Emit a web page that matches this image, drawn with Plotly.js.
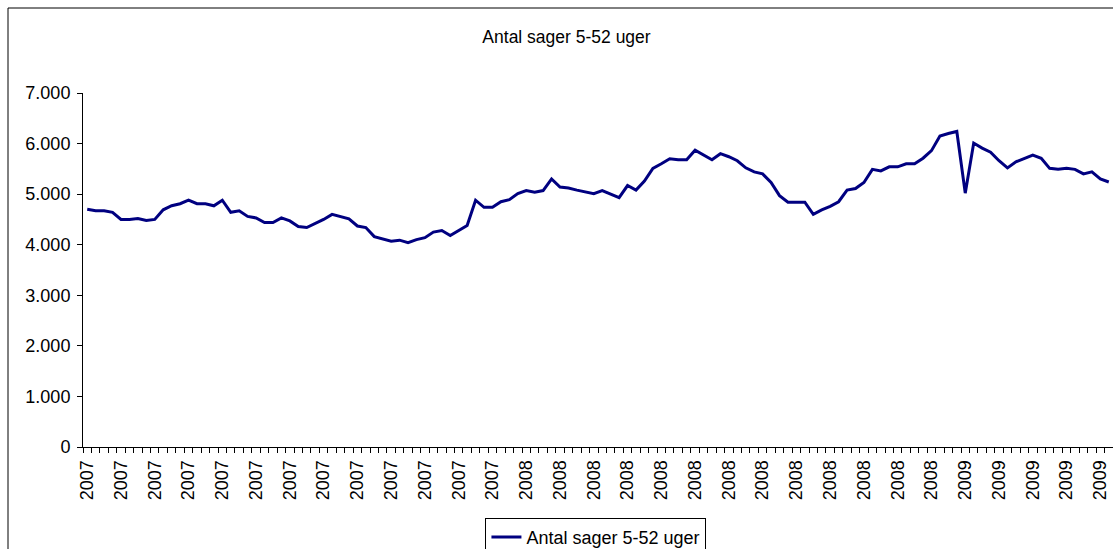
<!DOCTYPE html>
<html>
<head>
<meta charset="utf-8">
<script src="https://cdn.plot.ly/plotly-3.0.1.min.js"></script>
<style>html,body{margin:0;padding:0;background:#fff;}#chart{width:1113px;height:549px;}</style>
</head>
<body>
<div id="chart"></div>
<script>
// Weekly values, 2007 week 1 .. 2009 week 18
const values2007 = [
  4700, 4670, 4670, 4640, 4500, 4500, 4520, 4480, 4500, 4690,
  4770, 4810, 4880, 4810, 4810, 4770, 4880, 4640, 4670, 4560,
  4530, 4440, 4440, 4530, 4470, 4360, 4340, 4420, 4500, 4600,
  4560, 4510, 4370, 4340, 4160, 4120, 4070, 4090, 4040, 4100,
  4140, 4250, 4280, 4180, 4280, 4380, 4880, 4740, 4740, 4850,
  4890, 5010
];
const values2008 = [
  5070, 5040, 5070, 5300, 5140, 5120, 5080, 5050, 5010, 5070,
  5000, 4930, 5170, 5080, 5260, 5510, 5600, 5700, 5680, 5680,
  5870, 5770, 5680, 5800, 5740, 5660, 5520, 5440, 5400, 5230,
  4970, 4840, 4840, 4840, 4600, 4690, 4760, 4850, 5080, 5110,
  5230, 5490, 5460, 5540, 5540, 5600, 5600, 5710, 5860, 6150,
  6200, 6240
];
const values2009 = [
  5020, 6010, 5910, 5830, 5660, 5520, 5640, 5710, 5770, 5710,
  5510, 5490, 5510, 5490, 5400, 5440, 5300, 5240
];
const years = ["2007", "2008", "2009"];
const seriesName = "Antal sager 5-52 uger";
const chartTitle = "Antal sager 5-52 uger";

const values = values2007.concat(values2008, values2009);
const yearLabels = [];
values2007.forEach(() => yearLabels.push(years[0]));
values2008.forEach(() => yearLabels.push(years[1]));
values2009.forEach(() => yearLabels.push(years[2]));
const xIdx = values.map((v, i) => i);
const tickIdx = xIdx.filter(i => i % 4 === 0);
const tickText = tickIdx.map(i => yearLabels[i]);

const fam = "Liberation Sans, Arial, sans-serif";
const font = {family: fam, size: 18, color: "#000"};

const trace = {
  x: xIdx, y: values, type: "scatter", mode: "lines", name: seriesName,
  line: {color: "#000080", width: 3}
};

const layout = {
  width: 1113, height: 549,
  margin: {l: 83, r: 0, t: 93, b: 102, pad: 0, autoexpand: false},
  paper_bgcolor: "#fff", plot_bgcolor: "#fff",
  font: font,
  separators: ",.",
  showlegend: true,
  title: {text: chartTitle, font: {family: fam, size: 17.5, color: "#000"},
          xref: "container", x: 0.509, xanchor: "center",
          yref: "container", y: 0.933, yanchor: "middle"},
  xaxis: {
    range: [-0.5, values.length - 0.5], tickmode: "array", tickvals: tickIdx, ticktext: tickText,
    tickangle: -90, ticks: "outside", ticklen: 5, tickcolor: "rgba(0,0,0,0)",
    showgrid: false, zeroline: false, showline: true, linecolor: "#000", linewidth: 1,
    tickfont: {family: fam, size: 18, color: "#000"}, automargin: false,
    minor: {ticks: "outside", tickmode: "linear", tick0: -0.5, dtick: 1, ticklen: 5, tickcolor: "#000", tickwidth: 1, showgrid: false},
    fixedrange: true
  },
  yaxis: {
    range: [0, 7000], tickmode: "linear", tick0: 0, dtick: 1000, tickformat: ",d",
    ticks: "outside", ticklen: 5, tickcolor: "#000", ticklabelstandoff: 3,
    showgrid: false, zeroline: false, showline: true, linecolor: "#000", linewidth: 1,
    tickfont: {family: fam, size: 18, color: "#000"}, automargin: false, fixedrange: true
  },
  legend: {
    orientation: "h", x: 0.498, xanchor: "center", y: -0.2, yanchor: "top",
    bordercolor: "#000", borderwidth: 1, bgcolor: "#fff",
    font: {family: fam, size: 18, color: "#000"}
  },
  shapes: [{
    type: "rect", xref: "paper", yref: "paper",
    x0: -75/1030, x1: 1.2, y0: -0.5, y1: 439/354,
    line: {color: "#000", width: 1}, fillcolor: "rgba(0,0,0,0)", layer: "below"
  }]
};

Plotly.newPlot("chart", [trace], layout, {displayModeBar: false, staticPlot: true});
</script>
</body>
</html>
